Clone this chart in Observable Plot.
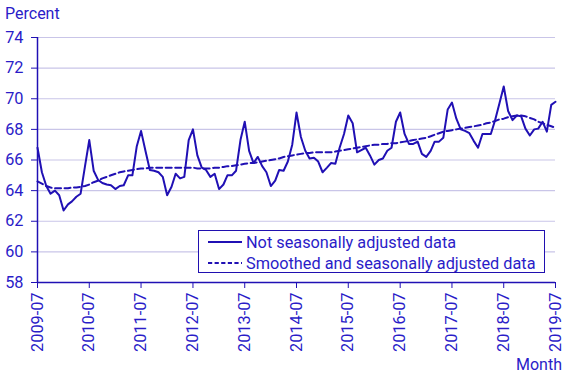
<!DOCTYPE html>
<html>
<head>
<meta charset="utf-8">
<script src="https://cdn.jsdelivr.net/npm/d3@7"></script>
<script src="https://cdn.jsdelivr.net/npm/@observablehq/plot@0.6"></script>
<style>
  body { margin: 0; background: #fff; }
  #wrap { position: relative; width: 568px; height: 378px; font-family: Roboto, sans-serif; color: #2010c0; }
  .lbl { position: absolute; font-size: 16px; white-space: nowrap; }
  #legend { position: absolute; left: 198px; top: 230px; width: 345px; height: 41px; border: 1.5px solid #2010b0; background: #fff; font-size: 16.3px; }
  #legend .row { position: absolute; left: 9px; height: 20px; display: flex; align-items: center; }
  #legend svg { margin-right: 4px; }
</style>
</head>
<body>
<div id="wrap"></div>
<script>
const startMonth = "2009-07";
const seriesNames = ["Not seasonally adjusted data", "Smoothed and seasonally adjusted data"];
const tickLabels = ["2009-07","2010-07","2011-07","2012-07","2013-07","2014-07","2015-07","2016-07","2017-07","2018-07","2019-07"];
const yTicks = [58, 60, 62, 64, 66, 68, 70, 72, 74];

const notAdjusted = [
  66.8, 65.2, 64.3, 63.8, 64.0, 63.7, 62.7, 63.1, 63.3, 63.6, 63.8, 65.6,
  67.3, 65.3, 64.7, 64.5, 64.4, 64.35, 64.1, 64.3, 64.35, 65.0, 65.0, 66.9,
  67.9, 66.6, 65.35, 65.3, 65.2, 64.9, 63.7, 64.25, 65.1, 64.8, 64.9, 67.3,
  68.0, 66.3, 65.5, 65.35, 64.9, 65.1, 64.1, 64.4, 65.0, 65.0, 65.3, 67.3,
  68.5, 66.6, 65.8, 66.2, 65.6, 65.2, 64.3, 64.65, 65.35, 65.3, 65.9, 67.0,
  69.1, 67.5, 66.6, 66.1, 66.15, 65.9, 65.2, 65.5, 65.8, 65.75, 66.8, 67.7,
  68.9, 68.4, 66.5, 66.65, 66.8, 66.3, 65.7, 66.0, 66.1, 66.6, 66.8, 68.5,
  69.1, 67.7, 67.05, 67.05, 67.2, 66.4, 66.2, 66.6, 67.2, 67.2, 67.45, 69.3,
  69.75, 68.7, 68.0, 67.9, 67.75, 67.25, 66.8, 67.7, 67.7, 67.7, 68.6, 69.7,
  70.8, 69.2, 68.6, 68.9, 68.85, 68.05, 67.6, 68.0, 68.05, 68.5, 67.85, 69.6,
  69.8
];

const smoothed = [
  64.6, 64.45, 64.3, 64.2, 64.15, 64.15, 64.15, 64.15, 64.2, 64.2, 64.25, 64.3,
  64.4, 64.55, 64.65, 64.8, 64.9, 65.0, 65.1, 65.2, 65.25, 65.3, 65.35, 65.4,
  65.45, 65.45, 65.5, 65.5, 65.5, 65.5, 65.5, 65.5, 65.5, 65.5, 65.5, 65.5,
  65.5, 65.45, 65.45, 65.45, 65.45, 65.5, 65.5, 65.55, 65.6, 65.6, 65.65, 65.7,
  65.75, 65.8, 65.8, 65.85, 65.9, 65.95, 66.0, 66.05, 66.1, 66.2, 66.25, 66.3,
  66.35, 66.4, 66.45, 66.45, 66.5, 66.5, 66.5, 66.5, 66.5, 66.55, 66.6, 66.65,
  66.7, 66.75, 66.8, 66.85, 66.9, 66.95, 67.0, 67.0, 67.05, 67.05, 67.1, 67.1,
  67.15, 67.2, 67.25, 67.3, 67.35, 67.4, 67.45, 67.55, 67.65, 67.75, 67.85, 67.9,
  67.95, 68.0, 68.05, 68.1, 68.15, 68.2, 68.25, 68.3, 68.4, 68.45, 68.55, 68.65,
  68.7, 68.8, 68.85, 68.9, 68.9, 68.85, 68.75, 68.65, 68.5, 68.4, 68.3, 68.2,
  68.1
];

const blue = "#2010b4";
const textBlue = "#2a1cc8";
const grid = "#c9c5e8";

const parse = d3.utcParse("%Y-%m");
const start = parse(startMonth);
const rowsA = notAdjusted.map((v, i) => ({date: d3.utcMonth.offset(start, i), value: v}));
const rowsB = smoothed.map((v, i) => ({date: d3.utcMonth.offset(start, i), value: v}));
const tickDates = tickLabels.map(parse);

const chart = Plot.plot({
  width: 568,
  height: 378,
  marginTop: 37,
  marginBottom: 96,
  marginLeft: 37,
  marginRight: 13,
  style: {fontFamily: "Roboto, sans-serif", fontSize: "16px", color: textBlue, background: "transparent"},
  x: {type: "utc", domain: [tickDates[0], tickDates[tickDates.length - 1]]},
  y: {domain: [58, 74]},
  marks: [
    Plot.gridY(yTicks, {stroke: grid, strokeOpacity: 1, strokeWidth: 1.2}),
    Plot.axisY(yTicks, {tickSize: 6, tickPadding: 8, label: null, stroke: blue, fill: textBlue, fontSize: 16.3}),
    Plot.axisX(tickDates, {tickSize: 6, tickPadding: 4, tickRotate: -90, tickFormat: d3.utcFormat("%Y-%m"), label: null, stroke: blue, fill: textBlue, fontSize: 16.3}),
    Plot.ruleX([tickDates[0]], {stroke: blue, strokeWidth: 1.5}),
    Plot.ruleY([58], {stroke: blue, strokeWidth: 1.5}),
    Plot.line(rowsB, {x: "date", y: "value", stroke: blue, strokeWidth: 2, strokeDasharray: "6,3.5"}),
    Plot.line(rowsA, {x: "date", y: "value", stroke: blue, strokeWidth: 2})
  ]
});

const wrap = document.getElementById("wrap");
wrap.appendChild(chart);

const pct = document.createElement("div");
pct.className = "lbl"; pct.textContent = "Percent";
pct.style.left = "5px"; pct.style.top = "4px"; pct.style.color = textBlue;
wrap.appendChild(pct);

const mon = document.createElement("div");
mon.className = "lbl"; mon.textContent = "Month";
mon.style.right = "6px"; mon.style.top = "355px"; mon.style.color = textBlue;
wrap.appendChild(mon);

const legend = document.createElement("div");
legend.id = "legend";
legend.style.color = textBlue;
seriesNames.forEach((name, i) => {
  const row = document.createElement("div");
  row.className = "row";
  row.style.top = (i === 0 ? 1 : 22) + "px";
  const dash = i === 0 ? "" : ` stroke-dasharray="4.2,2.4"`;
  row.innerHTML = `<svg width="34" height="10"><line x1="0" x2="34" y1="5" y2="5" stroke="${blue}" stroke-width="2"${dash}/></svg><span>${name}</span>`;
  legend.appendChild(row);
});
wrap.appendChild(legend);
</script>
</body>
</html>
